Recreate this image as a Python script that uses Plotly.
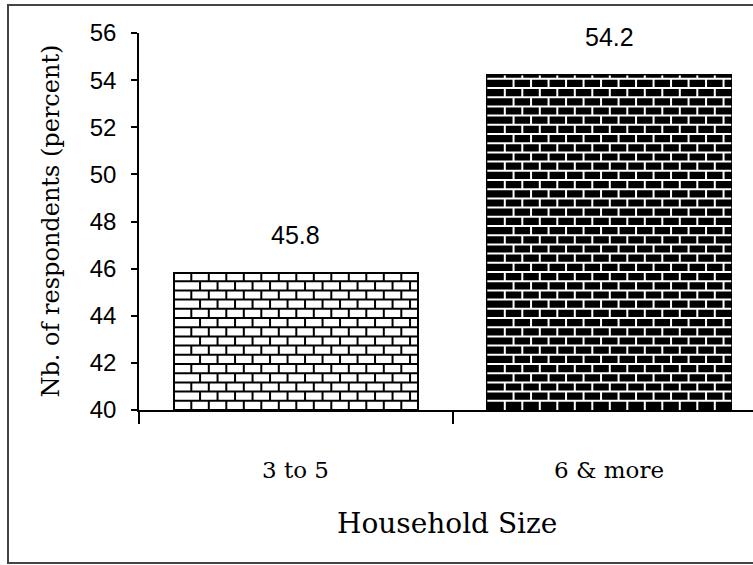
import plotly.graph_objects as go

# Survey result: share of respondents by household size
categories = ["3 to 5", "6 & more"]
percent = [45.8, 54.2]
y_ticks = [40, 42, 44, 46, 48, 50, 52, 54, 56]

# Figure geometry (pixels)
W, H = 753, 565
M_L, M_R, M_T, M_B = 139, 0, 33, 155
CAT_PX = 313.5                      # pixels per category slot
PLOT_W = W - M_L - M_R
PLOT_H = H - M_T - M_B
Y_MIN, Y_MAX = 40, 56
X_MIN = -0.5
X_MAX = X_MIN + PLOT_W / CAT_PX
BAR_W = 0.778

SANS = "Liberation Sans, Arial, sans-serif"
SERIF = "DejaVu Serif, serif"

fills = ["white", "black"]
mortar = ["black", "white"]

fig = go.Figure()

xs = list(range(len(categories)))
fig.add_trace(go.Bar(
    x=xs, y=[v - Y_MIN for v in percent], base=Y_MIN, width=BAR_W,
    marker=dict(color=fills, line=dict(color="black", width=2)),
    hoverinfo="skip", showlegend=False,
))

# Brick texture: rows of mortar lines with staggered joints
brick_h = 9.2 * (Y_MAX - Y_MIN) / PLOT_H   # row height in data units
brick_w = 17.5 / CAT_PX                      # brick length in data units
for i, v in enumerate(percent):
    left, right = i - BAR_W / 2, i + BAR_W / 2
    lx, ly = [], []
    k = 0
    y0 = Y_MIN
    while y0 < v - 1e-9:
        y1 = min(y0 + brick_h, v)
        if k > 0:
            lx += [left, right, None]
            ly += [y0, y0, None]
        off = (brick_w / 2) if k % 2 else 0.0
        xj = left + off + brick_w
        while xj < right - 1e-6:
            lx += [xj, xj, None]
            ly += [y0, y1, None]
            xj += brick_w
        y0 += brick_h
        k += 1
    fig.add_trace(go.Scatter(
        x=lx, y=ly, mode="lines",
        line=dict(color=mortar[i], width=2),
        hoverinfo="skip", showlegend=False,
    ))

# Bar value labels
for i, v in enumerate(percent):
    fig.add_annotation(x=i, y=v, xref="x", yref="y", text=f"{v:.1f}",
                       showarrow=False, yanchor="bottom", yshift=22,
                       font=dict(family=SANS, size=25, color="black"))

# Category labels below the axis
for i, c in enumerate(categories):
    fig.add_annotation(x=i, y=-60 / PLOT_H, xref="x", yref="paper",
                       text=c, showarrow=False, yanchor="middle",
                       font=dict(family=SERIF, size=23, color="black"))

# Axis titles
fig.add_annotation(x=(447 - M_L) / PLOT_W, y=-113 / PLOT_H, xref="paper", yref="paper",
                   text="Household Size", showarrow=False,
                   xanchor="center", yanchor="middle",
                   font=dict(family=SERIF, size=28, color="black"))
fig.add_annotation(x=(50 - M_L) / PLOT_W, y=0.5, xref="paper", yref="paper",
                   text="Nb. of respondents (percent)", showarrow=False,
                   textangle=-90, xanchor="center", yanchor="middle",
                   font=dict(family=SERIF, size=24, color="black"))

# Outer frame
fig.add_shape(type="rect", xref="paper", yref="paper",
              x0=(8 - M_L) / PLOT_W, x1=1.05,
              y0=-(563 - M_T - PLOT_H) / PLOT_H, y1=(M_T - 5) / PLOT_H + 1,
              line=dict(color="#444444", width=2), layer="below")

fig.update_layout(
    width=W, height=H,
    margin=dict(l=M_L, r=M_R, t=M_T, b=M_B, autoexpand=False),
    paper_bgcolor="white", plot_bgcolor="white",
    bargap=0, showlegend=False,
    xaxis=dict(range=[X_MIN, X_MAX], tickvals=[-0.5, 0.5, 1.5],
               showticklabels=False, ticks="outside", ticklen=12,
               tickcolor="black", tickwidth=1.5,
               showline=True, linecolor="black", linewidth=1.5,
               showgrid=False, zeroline=False, fixedrange=True),
    yaxis=dict(range=[Y_MIN, Y_MAX], tickvals=y_ticks,
               ticks="outside", ticklen=6, tickcolor="black", tickwidth=1.5,
               ticklabelstandoff=10,
               tickfont=dict(family=SANS, size=24, color="black"),
               showline=True, linecolor="black", linewidth=1.5,
               showgrid=False, zeroline=False, fixedrange=True),
)

fig.write_html("out.html")
